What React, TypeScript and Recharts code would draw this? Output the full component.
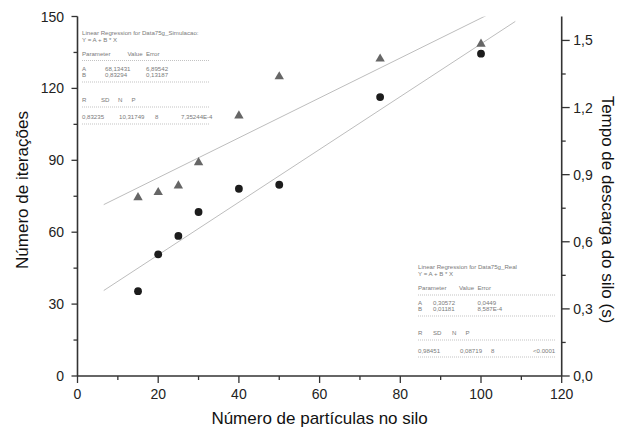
import React from 'react';
import { ComposedChart, XAxis, YAxis, Scatter, Line } from 'recharts';

// ---- data ----
const particles = [15, 20, 25, 30, 40, 50, 75, 100];
const iterSim = [74.8, 76.9, 79.7, 89.4, 108.9, 125.2, 132.6, 138.8];
const timeReal = [0.379, 0.544, 0.626, 0.733, 0.837, 0.855, 1.247, 1.441];
const fitX = [6.5, 108.5];
const fitSim = [71.5, 156.4];
const fitReal = [0.382, 1.585];

const xTicks = [0, 10, 20, 30, 40, 50, 60, 70, 80, 90, 100, 110, 120];
const leftTicks = [0, 15, 30, 45, 60, 75, 90, 105, 120, 135, 150];
const rightTicks = [0, 0.15, 0.3, 0.45, 0.6, 0.75, 0.9, 1.05, 1.2, 1.35, 1.5];

const xTitle = 'Número de partículas no silo';
const leftTitle = 'Número de iterações';
const rightTitle = 'Tempo de descarga do silo (s)';

const simHeader = ['Linear Regression for Data75g_Simulacao:', 'Y = A + B * X'];
const simParamHead = ['Parameter', 'Value', 'Error'];
const simParamA = ['A', '68,13431', '6,89542'];
const simParamB = ['B', '0,83294', '0,13187'];
const simStatHead = ['R', 'SD', 'N', 'P'];
const simStatVals = ['0,83235', '10,31749', '8', '7,35244E-4'];

const realHeader = ['Linear Regression for Data75g_Real', 'Y = A + B * X'];
const realParamHead = ['Parameter', 'Value', 'Error'];
const realParamA = ['A', '0,30572', '0,0449'];
const realParamB = ['B', '0,01181', '8,587E-4'];
const realStatHead = ['R', 'SD', 'N', 'P'];
const realStatVals = ['0,98451', '0,08719', '8', '<0.0001'];

const simPts = particles.map((x, i) => ({ x, y: iterSim[i] }));
const realPts = particles.map((x, i) => ({ x, y: timeReal[i] }));
const simFit = fitX.map((x, i) => ({ x, y: fitSim[i] }));
const realFit = fitX.map((x, i) => ({ x, y: fitReal[i] }));

const FONT = '"Liberation Sans", Arial, Helvetica, sans-serif';
const AX = '#333';

const LeftTick = (p: any) => {
  const v = p.payload.value;
  const major = v % 30 === 0;
  const len = major ? 6 : 4;
  return (
    <g>
      <line x1={p.x - len} x2={p.x} y1={p.y} y2={p.y} stroke={AX} strokeWidth={1.3} />
      {major && (
        <text x={p.x - 13.5} y={p.y} dy="0.36em" textAnchor="end" fontSize={14} fontFamily={FONT} fill="#222">
          {v}
        </text>
      )}
    </g>
  );
};

const RightTick = (p: any) => {
  const v = p.payload.value;
  const major = Math.round(v * 100) % 30 === 0;
  const len = major ? 8 : 4;
  return (
    <g>
      <line x1={p.x} x2={p.x + len} y1={p.y} y2={p.y} stroke={AX} strokeWidth={1.3} />
      {major && (
        <text x={p.x + 11.6} y={p.y} dy="0.36em" textAnchor="start" fontSize={14} fontFamily={FONT} fill="#222">
          {v.toFixed(1).replace('.', ',')}
        </text>
      )}
    </g>
  );
};

const BottomTick = (p: any) => {
  const v = p.payload.value;
  const major = v % 20 === 0;
  const len = major ? 7 : 4;
  return (
    <g>
      <line x1={p.x} x2={p.x} y1={p.y} y2={p.y + len} stroke={AX} strokeWidth={1.3} />
      {major && (
        <text x={p.x} y={p.y + 23} textAnchor="middle" fontSize={14} fontFamily={FONT} fill="#222">
          {v}
        </text>
      )}
    </g>
  );
};

const TopTick = (p: any) => {
  const v = p.payload.value;
  const major = v % 20 === 0;
  const len = major ? 7 : 4;
  return <line x1={p.x} x2={p.x} y1={p.y} y2={p.y + len} stroke={AX} strokeWidth={1.3} />;
};

const Tri = (p: any) => (
  <path
    d={`M${p.cx},${p.cy - 4.8}L${p.cx + 4.7},${p.cy + 3.4}L${p.cx - 4.7},${p.cy + 3.4}Z`}
    fill="#666"
  />
);
const Dot = (p: any) => <circle cx={p.cx} cy={p.cy} r={3.9} fill="#1c1c1c" />;

const TXT = { fontSize: 6.1, fontFamily: FONT, fill: '#7a7a7a' };

const Row = ({ items, xs, y }: { items: string[]; xs: number[]; y: number }) => (
  <>
    {items.map((t, i) => (
      <text key={i} x={xs[i]} y={y} dy="0.35em" {...TXT}>
        {t}
      </text>
    ))}
  </>
);

const Dots = ({ x1, x2, y }: { x1: number; x2: number; y: number }) => (
  <line x1={x1} x2={x2} y1={y} y2={y} stroke="#9a9a9a" strokeWidth={0.6} strokeDasharray="1 1" />
);

export default function App() {
  return (
    <div style={{ position: 'relative', width: 627, height: 433, marginLeft: -8, marginTop: -8, background: '#fff' }}>
      <ComposedChart width={627} height={433} margin={{ top: 16.5, right: 0, bottom: 0, left: 0 }}>
        <XAxis
          xAxisId="bottom"
          dataKey="x"
          type="number"
          domain={[0, 120]}
          ticks={xTicks}
          interval={0}
          height={57}
          tickSize={0}
          tickMargin={0}
          tick={<BottomTick />}
          axisLine={{ stroke: AX, strokeWidth: 1.6 }}
          tickLine={false}
        />
        <XAxis
          xAxisId="top"
          orientation="top"
          dataKey="x"
          type="number"
          domain={[0, 120]}
          ticks={xTicks}
          interval={0}
          height={0}
          tickSize={0}
          tickMargin={0}
          tick={<TopTick />}
          axisLine={{ stroke: AX, strokeWidth: 1.6 }}
          tickLine={false}
        />
        <YAxis
          yAxisId="left"
          dataKey="y"
          type="number"
          domain={[0, 150]}
          allowDataOverflow
          ticks={leftTicks}
          interval={0}
          width={77.5}
          tickSize={0}
          tickMargin={0}
          tick={<LeftTick />}
          axisLine={{ stroke: AX, strokeWidth: 1.6 }}
          tickLine={false}
        />
        <YAxis
          yAxisId="right"
          orientation="right"
          dataKey="y"
          type="number"
          domain={[0, 1.607]}
          allowDataOverflow
          ticks={rightTicks}
          interval={0}
          width={65.3}
          tickSize={0}
          tickMargin={0}
          tick={<RightTick />}
          axisLine={{ stroke: AX, strokeWidth: 1.6 }}
          tickLine={false}
        />
        <Line
          data={simFit}
          dataKey="y"
          xAxisId="bottom"
          yAxisId="left"
          stroke="#bdbdbd"
          strokeWidth={1}
          dot={false}
          activeDot={false}
          isAnimationActive={false}
        />
        <Line
          data={realFit}
          dataKey="y"
          xAxisId="bottom"
          yAxisId="right"
          stroke="#bdbdbd"
          strokeWidth={1}
          dot={false}
          activeDot={false}
          isAnimationActive={false}
        />
        <Scatter data={simPts} dataKey="y" xAxisId="bottom" yAxisId="left" shape={Tri} isAnimationActive={false} />
        <Scatter data={realPts} dataKey="y" xAxisId="bottom" yAxisId="right" shape={Dot} isAnimationActive={false} />
      </ComposedChart>
      <svg
        width={627}
        height={433}
        style={{ position: 'absolute', left: 0, top: 0, pointerEvents: 'none' }}
      >
        <text x={319.6} y={424} textAnchor="middle" fontSize={17} fontFamily={FONT} fill="#111">
          {xTitle}
        </text>
        <text
          x={22}
          y={190}
          textAnchor="middle"
          dy="0.35em"
          fontSize={17}
          fontFamily={FONT}
          fill="#111"
          transform="rotate(-90 22 190)"
        >
          {leftTitle}
        </text>
        <text
          x={608}
          y={209.5}
          textAnchor="middle"
          dy="0.35em"
          fontSize={17}
          fontFamily={FONT}
          fill="#111"
          transform="rotate(90 608 209.5)"
        >
          {rightTitle}
        </text>

        {/* upper-left regression box */}
        <Row items={[simHeader[0]]} xs={[82]} y={33} />
        <Row items={[simHeader[1]]} xs={[82]} y={39.5} />
        <Row items={simParamHead} xs={[82, 127.5, 146]} y={53.5} />
        <Dots x1={82} x2={210} y={60.5} />
        <Row items={simParamA} xs={[82, 105, 146]} y={69} />
        <Row items={simParamB} xs={[82, 105, 146]} y={74.5} />
        <Dots x1={82} x2={210} y={82} />
        <Row items={simStatHead} xs={[82, 101, 118, 131.5]} y={99.5} />
        <Dots x1={82} x2={210} y={107} />
        <Row items={simStatVals} xs={[82, 119, 155, 181]} y={117} />
        <Dots x1={82} x2={210} y={124} />

        {/* lower-right regression box */}
        <Row items={[realHeader[0]]} xs={[418]} y={267} />
        <Row items={[realHeader[1]]} xs={[418]} y={273.5} />
        <Row items={realParamHead} xs={[418, 459, 477.5]} y={288} />
        <Dots x1={418} x2={555} y={295} />
        <Row items={realParamA} xs={[418, 433, 477.5]} y={302.5} />
        <Row items={realParamB} xs={[418, 433, 477.5]} y={308.5} />
        <Dots x1={418} x2={555} y={316} />
        <Row items={realStatHead} xs={[418, 433, 452, 465.5]} y={333} />
        <Dots x1={418} x2={555} y={340} />
        <Row items={realStatVals} xs={[418, 460, 491, 533]} y={350.5} />
        <Dots x1={418} x2={555} y={357} />
      </svg>
    </div>
  );
}
